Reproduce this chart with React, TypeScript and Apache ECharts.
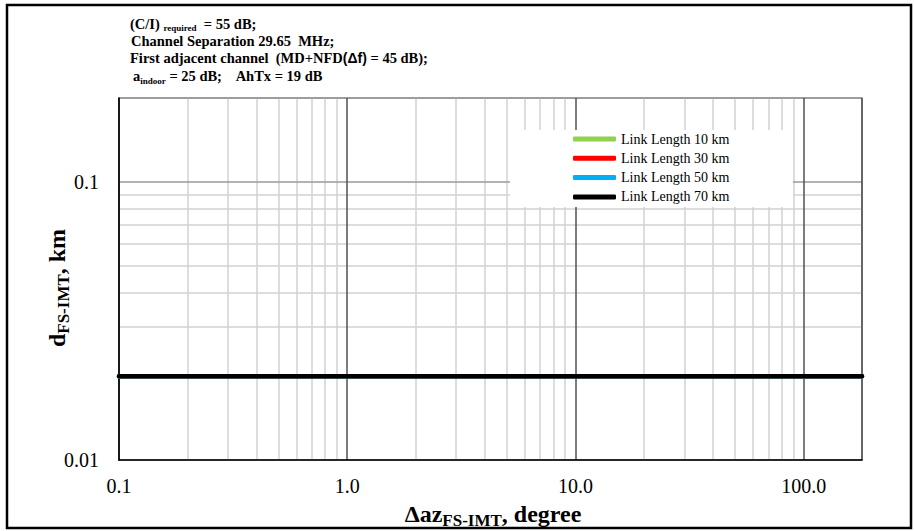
import React, { useEffect, useRef } from 'react';
import * as echarts from 'echarts';

// ---- data ----
const seriesNames = ['Link Length 10 km', 'Link Length 30 km', 'Link Length 50 km', 'Link Length 70 km'];
const seriesColors = ['#92d050', '#ff0000', '#00b0f0', '#000000'];
const azimuthDeg = [0.1, 1, 10, 100, 180];
const dist10km = [0.02, 0.02, 0.02, 0.02, 0.02];
const dist30km = [0.02, 0.02, 0.02, 0.02, 0.02];
const dist50km = [0.02, 0.02, 0.02, 0.02, 0.02];
const dist70km = [0.02, 0.02, 0.02, 0.02, 0.02];
const xMinorGrid = [0.2, 0.3, 0.4, 0.5, 0.6, 0.7, 0.8, 0.9, 2, 3, 4, 5, 6, 7, 8, 9, 20, 30, 40, 50, 60, 70, 80, 90];
const yMinorGrid = [0.02, 0.03, 0.04, 0.05, 0.06, 0.07, 0.08, 0.09];
const annotationLines = [
  '{m|(C/I) }{s|required}{m|  = 55 dB;}',
  '{m|Channel Separation 29.65  MHz;}',
  '{m|First adjacent channel  (MD+NFD}{g|(Δf)}{m| = 45 dB);}',
  '{m|a}{s|indoor}{m| = 25 dB;    AhTx = 19 dB}',
];
const xAxisTitle = '{m|Δaz}{s|FS-IMT}{m|, degree}';
const yAxisTitle = '{m|d}{s|FS-IMT}{m|, km}';

const SERIF = 'Liberation Serif';

export default function App() {
  const ref = useRef<HTMLDivElement>(null);
  useEffect(() => {
    if (!ref.current) return;
    const chart = echarts.init(ref.current, null, { renderer: 'svg' });
    const allData = [dist10km, dist30km, dist50km, dist70km];

    const annoRich = {
      m: { fontFamily: SERIF, fontWeight: 'bold', fontSize: 14.5, lineHeight: 18, fill: '#000', color: '#000' },
      s: { fontFamily: SERIF, fontWeight: 'bold', fontSize: 9, lineHeight: 9, verticalAlign: 'bottom', fill: '#000', color: '#000' },
      g: { fontFamily: 'Liberation Sans', fontWeight: 'bold', fontSize: 14, lineHeight: 18, fill: '#000', color: '#000' },
    };
    const titleRich = {
      m: { fontFamily: SERIF, fontWeight: 'bold', fontSize: 24, lineHeight: 30, fill: '#000', color: '#000' },
      s: { fontFamily: SERIF, fontWeight: 'bold', fontSize: 17, lineHeight: 17, verticalAlign: 'bottom', fill: '#000', color: '#000' },
    };
    const annoY = [23.5, 40.5, 58, 76];
    const annoX = [130, 131, 130, 133];

    const option: any = {
      animation: false,
      backgroundColor: '#fff',
      textStyle: { fontFamily: SERIF },
      grid: { left: 119, right: 52, top: 98, bottom: 71, show: true, borderColor: '#8a8a8a', borderWidth: 1.5, containLabel: false, outerBoundsMode: 'none' },
      xAxis: {
        type: 'log', logBase: 10, min: 0.1, max: 180, z: 2,
        axisLine: { show: true, onZero: false, lineStyle: { color: '#000', width: 1.5 } },
        axisTick: { show: false },
        splitLine: { show: true, lineStyle: { color: '#505050', width: 1.5 } },
        axisLabel: {
          fontFamily: SERIF, fontSize: 20, color: '#000', margin: 16, showMaxLabel: false,
          formatter: (v: number) => (v >= 1 ? v.toFixed(1) : String(parseFloat(v.toPrecision(4)))),
        },
      },
      yAxis: {
        type: 'log', logBase: 10, min: 0.01, max: 0.2, z: 2,
        axisLine: { show: true, onZero: false, lineStyle: { color: '#000', width: 1.5 } },
        axisTick: { show: false },
        splitLine: { show: true, lineStyle: { color: '#9a9a9a', width: 1.5 } },
        axisLabel: {
          fontFamily: SERIF, fontSize: 20, color: '#000', margin: 20, showMaxLabel: false,
          formatter: (v: number) => String(parseFloat(v.toPrecision(4))),
        },
      },
      legend: {
        orient: 'vertical', left: 573, top: 131, padding: 0, z: 6,
        itemWidth: 43, itemHeight: 5, itemGap: 3.3, icon: 'roundRect',
        textStyle: { fontFamily: SERIF, fontSize: 14, lineHeight: 16, color: '#000' },
        data: seriesNames,
      },
      graphic: [
        { type: 'rect', z: 5, silent: true, shape: { x: 510, y: 130, width: 283, height: 77 }, style: { fill: '#fff' } },
        { type: 'rect', z: 10, silent: true, shape: { x: 7, y: 5, width: 904, height: 523 }, style: { fill: 'none', stroke: '#000', lineWidth: 2.5 } },
        ...annotationLines.map((t, i) => ({
          type: 'text', z: 10, x: annoX[i], y: annoY[i],
          style: { text: t, rich: annoRich, align: 'left', verticalAlign: 'middle' },
        })),
        { type: 'text', z: 10, x: 493, y: 514, style: { text: xAxisTitle, rich: titleRich, align: 'center', verticalAlign: 'middle' } },
        { type: 'text', z: 10, x: 57, y: 288, rotation: Math.PI / 2, style: { text: yAxisTitle, rich: titleRich, align: 'center', verticalAlign: 'middle' } },
      ],
      series: [
        {
          type: 'line', name: '__grid', z: 1, silent: true, data: [],
          markLine: {
            silent: true, z: 1, symbol: ['none', 'none'], animation: false,
            label: { show: false },
            lineStyle: { color: '#d2d2d2', width: 1.5, type: 'solid' },
            data: [
              ...xMinorGrid.map((v) => ({ xAxis: v })),
              ...yMinorGrid.map((v) => ({ yAxis: v })),
            ],
          },
        },
        ...seriesNames.map((name, i) => ({
          type: 'line', name, z: 3, showSymbol: false, symbol: 'none',
          data: azimuthDeg.map((x, j) => [x, allData[i][j]]),
          itemStyle: { color: seriesColors[i] },
          lineStyle: { color: seriesColors[i], width: 4.5, cap: 'round' },
        })),
      ],
    };
    chart.setOption(option);
    return () => chart.dispose();
  }, []);
  return <div ref={ref} style={{ position: 'fixed', left: 0, top: 0, width: 914, height: 531 }} />;
}
